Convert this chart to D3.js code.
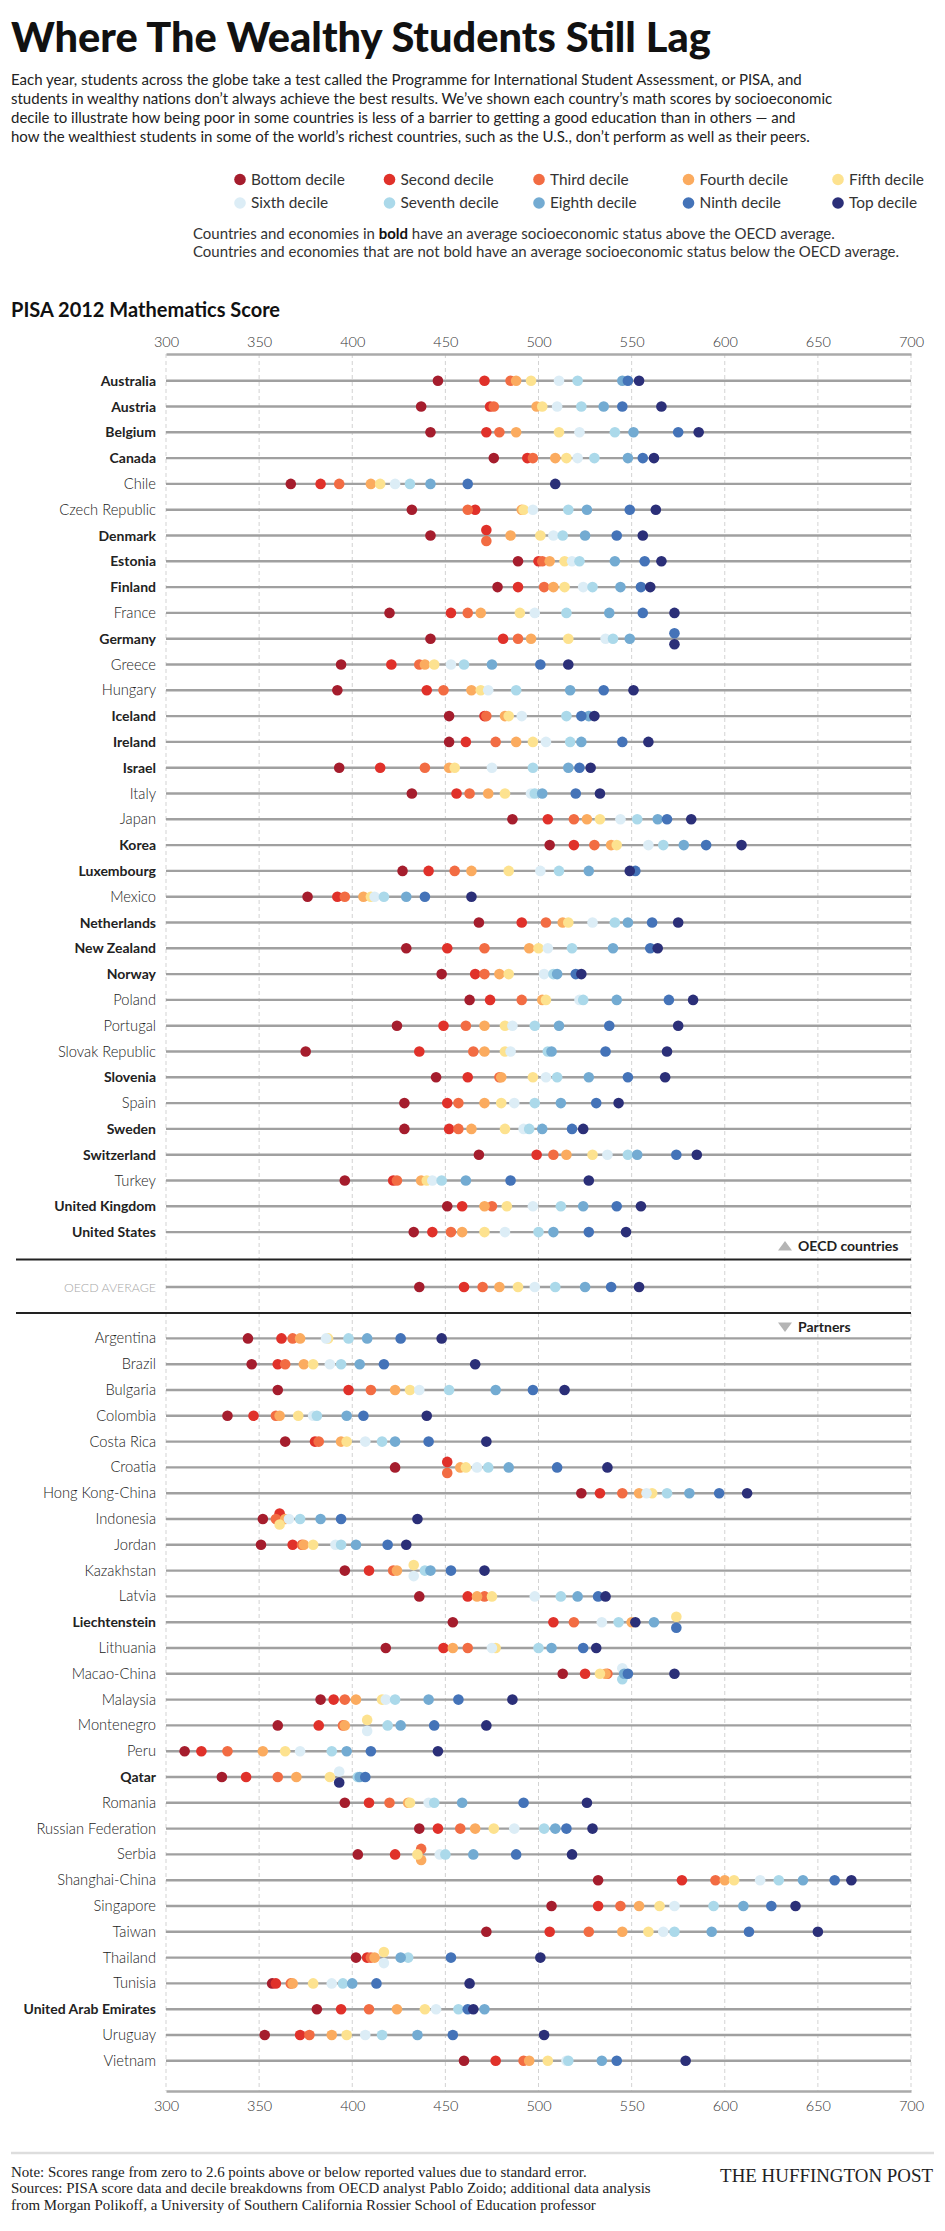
<!DOCTYPE html>
<html>
<head>
<meta charset="utf-8">
<script src="https://cdn.jsdelivr.net/npm/d3@7"></script>
<style>
  body { margin: 0; background: #fff; }
  svg { font-family: Lato, "Noto Sans", sans-serif; }
</style>
</head>
<body>
<div id="container"></div>
<script>
/* global d3 */

var w = 945,
    h = 2231;

// --- data ---------------------------------------------------------------
var decileNames = ['Bottom decile', 'Second decile', 'Third decile', 'Fourth decile', 'Fifth decile',
    'Sixth decile', 'Seventh decile', 'Eighth decile', 'Ninth decile', 'Top decile'];

var decileColors = ['#a51d2d', '#e0312a', '#f26c43', '#fbab5f', '#fde28f',
    '#dcedf6', '#abd9ea', '#73abd2', '#4473b8', '#2b2f78'];

var scoreTicks = [300, 350, 400, 450, 500, 550, 600, 650, 700];

var oecdCountries = ['Australia', 'Austria', 'Belgium', 'Canada', 'Chile', 'Czech Republic', 'Denmark',
    'Estonia', 'Finland', 'France', 'Germany', 'Greece', 'Hungary', 'Iceland', 'Ireland', 'Israel',
    'Italy', 'Japan', 'Korea', 'Luxembourg', 'Mexico', 'Netherlands', 'New Zealand', 'Norway',
    'Poland', 'Portugal', 'Slovak Republic', 'Slovenia', 'Spain', 'Sweden', 'Switzerland', 'Turkey',
    'United Kingdom', 'United States'];

var oecdScores = [
    [446, 471, 485, 488, 496, 511, 521, 545, 548, 554],
    [437, 474, 476, 499, 502, 510, 523, 535, 545, 566],
    [442, 472, 479, 488, 511, 522, 541, 551, 575, 586],
    [476, 494, 497, 509, 515, 521, 530, 548, 556, 562],
    [367, 383, 393, 410, 415, 423, 431, 442, 462, 509],
    [432, 466, 462, 491, 492, 497, 516, 526, 549, 563],
    [442, 472, 472, 485, 501, 508, 513, 525, 542, 556],
    [489, 500, 502, 506, 514, 518, 522, 541, 557, 566],
    [478, 489, 503, 508, 514, 524, 529, 544, 555, 560],
    [420, 453, 462, 469, 490, 498, 515, 538, 556, 573],
    [442, 481, 489, 496, 516, 536, 540, 549, 573, 573],
    [394, 421, 436, 439, 444, 453, 460, 475, 501, 516],
    [392, 440, 449, 464, 469, 473, 488, 517, 535, 551],
    [452, 471, 472, 482, 484, 491, 515, 527, 523, 530],
    [452, 461, 477, 488, 497, 504, 517, 523, 545, 559],
    [393, 415, 439, 452, 455, 475, 497, 516, 522, 528],
    [432, 456, 463, 473, 482, 496, 498, 502, 520, 533],
    [486, 505, 519, 526, 533, 544, 553, 564, 569, 582],
    [506, 519, 530, 539, 542, 559, 567, 578, 590, 609],
    [427, 441, 455, 464, 484, 501, 511, 527, 552, 549],
    [376, 392, 396, 406, 410, 412, 417, 429, 439, 464],
    [468, 491, 504, 513, 516, 529, 541, 548, 561, 575],
    [429, 451, 471, 495, 500, 505, 518, 540, 560, 564],
    [448, 466, 471, 479, 484, 503, 508, 510, 520, 523],
    [463, 474, 491, 502, 504, 522, 524, 542, 570, 583],
    [424, 449, 461, 471, 482, 486, 498, 511, 538, 575],
    [375, 436, 465, 471, 482, 485, 505, 507, 536, 569],
    [445, 462, 479, 480, 497, 504, 510, 527, 548, 568],
    [428, 451, 457, 471, 480, 487, 498, 512, 531, 543],
    [428, 452, 457, 464, 482, 492, 495, 502, 518, 524],
    [468, 499, 508, 515, 529, 537, 548, 553, 574, 585],
    [396, 422, 424, 437, 440, 443, 448, 461, 485, 527],
    [451, 459, 475, 471, 483, 497, 512, 524, 542, 555],
    [433, 443, 453, 459, 471, 482, 500, 508, 527, 547]
];

var oecdAverage = [436, 460, 470, 479, 489, 498, 509, 525, 539, 554];

var partnerCountries = ['Argentina', 'Brazil', 'Bulgaria', 'Colombia', 'Costa Rica', 'Croatia',
    'Hong Kong-China', 'Indonesia', 'Jordan', 'Kazakhstan', 'Latvia', 'Liechtenstein', 'Lithuania',
    'Macao-China', 'Malaysia', 'Montenegro', 'Peru', 'Qatar', 'Romania', 'Russian Federation',
    'Serbia', 'Shanghai-China', 'Singapore', 'Taiwan', 'Thailand', 'Tunisia',
    'United Arab Emirates', 'Uruguay', 'Vietnam'];

var partnerScores = [
    [344, 362, 368, 372, 387, 386, 398, 408, 426, 448],
    [346, 360, 364, 374, 379, 388, 394, 404, 417, 466],
    [360, 398, 410, 423, 431, 436, 452, 477, 497, 514],
    [333, 347, 359, 361, 371, 379, 381, 397, 406, 440],
    [364, 380, 382, 394, 397, 407, 416, 423, 441, 472],
    [423, 451, 451, 458, 461, 467, 473, 484, 510, 537],
    [523, 533, 545, 554, 561, 558, 569, 581, 597, 612],
    [352, 361, 359, 364, 361, 366, 372, 383, 394, 435],
    [351, 368, 373, 374, 379, 391, 394, 402, 419, 429],
    [396, 409, 422, 424, 433, 433, 439, 442, 453, 471],
    [436, 462, 471, 467, 475, 498, 512, 521, 532, 536],
    [454, 508, 519, 550, 574, 534, 543, 562, 574, 552],
    [418, 449, 462, 454, 477, 475, 500, 507, 524, 531],
    [513, 525, 537, 536, 533, 545, 545, 546, 548, 573],
    [383, 390, 396, 402, 416, 418, 423, 441, 457, 486],
    [360, 382, 395, 396, 408, 408, 419, 426, 444, 472],
    [310, 319, 333, 352, 364, 372, 389, 397, 410, 446],
    [330, 343, 360, 370, 388, 393, 403, 404, 407, 393],
    [396, 409, 420, 430, 431, 441, 444, 459, 492, 526],
    [436, 446, 458, 466, 476, 487, 503, 509, 515, 529],
    [403, 423, 437, 437, 435, 447, 450, 465, 488, 518],
    [532, 577, 595, 600, 605, 619, 629, 642, 659, 668],
    [507, 532, 544, 554, 565, 573, 594, 610, 625, 638],
    [472, 506, 527, 545, 559, 567, 573, 593, 613, 650],
    [402, 408, 410, 412, 417, 417, 430, 426, 453, 501],
    [357, 359, 367, 368, 379, 389, 395, 400, 413, 463],
    [381, 394, 409, 424, 439, 445, 457, 471, 462, 465],
    [353, 372, 377, 389, 397, 407, 416, 435, 454, 503],
    [460, 477, 492, 495, 505, 515, 516, 534, 542, 579]
];

// above-OECD-average socioeconomic status
var boldCountries = ['Australia', 'Austria', 'Belgium', 'Canada', 'Denmark', 'Estonia', 'Finland',
    'Germany', 'Iceland', 'Ireland', 'Israel', 'Korea', 'Luxembourg', 'Netherlands', 'New Zealand',
    'Norway', 'Slovenia', 'Sweden', 'Switzerland', 'United Kingdom', 'United States',
    'Liechtenstein', 'Qatar', 'United Arab Emirates'];

var introLines = [
    'Each year, students across the globe take a test called the Programme for International Student Assessment, or PISA, and',
    'students in wealthy nations don\u2019t always achieve the best results. We\u2019ve shown each country\u2019s math scores by socioeconomic',
    'decile to illustrate how being poor in some countries is less of a barrier to getting a good education than in others  \u2014 and',
    'how the wealthiest students in some of the world\u2019s richest countries, such as the U.S., don\u2019t perform as well as their peers.'
];

var footLines = [
    'Note: Scores range from zero to 2.6 points above or below reported values due to standard error.',
    'Sources: PISA score data and decile breakdowns from OECD analyst Pablo Zoido; additional data analysis',
    'from Morgan Polikoff, a University of Southern California Rossier School of Education professor'
];

// --- rows ---------------------------------------------------------------
var rows = [];
oecdCountries.forEach(function(name, i) {
    rows.push({ name: name, scores: oecdScores[i], slot: i });
});
rows.push({ name: 'OECD AVERAGE', scores: oecdAverage, slot: 35.13, avg: true });
partnerCountries.forEach(function(name, i) {
    rows.push({ name: name, scores: partnerScores[i], slot: 37.12 + i });
});

var x = d3.scaleLinear().domain([300, 700]).range([166, 911]);
var y = d3.scaleLinear().domain([0, 1]).range([380.7, 406.5]);

var svg = d3.select('#container')
    .append('svg')
    .attr('width', w)
    .attr('height', h);

// shrink or grow a text's font until it spans the wanted width
var fitWidth = function(sel, width) {
    var size = parseFloat(sel.attr('font-size'));
    var len = sel.node().getComputedTextLength();
    if (len > 0) sel.attr('font-size', (size * width / len).toFixed(2));
};

// --- header -------------------------------------------------------------
var title = svg.append('text')
    .attr('x', 11)
    .attr('y', 52)
    .attr('font-size', 38)
    .attr('font-weight', 900)
    .attr('fill', '#111')
    .text('Where The Wealthy Students Still Lag');
fitWidth(title, 700);

svg.append('g').selectAll('text')
    .data(introLines)
    .enter().append('text')
    .attr('x', 11)
    .attr('y', function(d, i) { return 85 + i * 19.1; })
    .attr('font-size', 15)
    .attr('fill', '#222')
    .text(function(d) { return d; });

var legend = svg.append('g').selectAll('g')
    .data(decileNames)
    .enter().append('g')
    .attr('transform', function(d, i) {
        return 'translate(' + (240 + (i % 5) * 149.5) + ',' + (179.5 + Math.floor(i / 5) * 23.5) + ')';
    });
legend.append('circle')
    .attr('r', 5.8)
    .attr('fill', function(d, i) { return decileColors[i]; });
legend.append('text')
    .attr('x', 11)
    .attr('y', 5.2)
    .attr('font-size', 15.4)
    .attr('fill', '#333')
    .text(function(d) { return d; });

var note1 = svg.append('text')
    .attr('x', 193)
    .attr('y', 239)
    .attr('font-size', 14.6)
    .attr('fill', '#333');
note1.append('tspan').text('Countries and economies in ');
note1.append('tspan').attr('font-weight', 700).attr('fill', '#111').text('bold');
note1.append('tspan').text(' have an average socioeconomic status above the OECD average.');

var note2 = svg.append('text')
    .attr('x', 193)
    .attr('y', 256.5)
    .attr('font-size', 14.6)
    .attr('fill', '#333')
    .text('Countries and economies that are not bold have an average socioeconomic status below the OECD average.');
fitWidth(note2, 706);
note1.attr('font-size', note2.attr('font-size'));

svg.append('text')
    .attr('x', 11)
    .attr('y', 317)
    .attr('font-size', 20)
    .attr('font-weight', 700)
    .attr('fill', '#111')
    .text('PISA 2012 Mathematics Score');

// --- grid + axes ---------------------------------------------------------
var axisY0 = 354,
    axisY1 = 2091;

svg.append('g').selectAll('line')
    .data(scoreTicks)
    .enter().append('line')
    .attr('x1', function(d) { return x(d); })
    .attr('x2', function(d) { return x(d); })
    .attr('y1', axisY0)
    .attr('y2', axisY1)
    .attr('stroke', '#c8c8c8')
    .attr('stroke-width', 0.8)
    .attr('stroke-dasharray', '4,3');

var axisTop = svg.append('g')
    .attr('transform', 'translate(0,' + axisY0 + ')')
    .call(d3.axisTop(x).tickValues(scoreTicks).tickSize(0).tickPadding(7));
var axisBottom = svg.append('g')
    .attr('transform', 'translate(0,' + axisY1 + ')')
    .call(d3.axisBottom(x).tickValues(scoreTicks).tickSize(0).tickPadding(10));

[axisTop, axisBottom].forEach(function(a) {
    a.select('.domain').attr('stroke', '#aaa').attr('stroke-width', 2.5);
    a.selectAll('text')
        .style('font-family', 'Lato, sans-serif')
        .style('font-size', '14.5px')
        .style('font-weight', 300)
        .attr('fill', '#333');
});

// section separators
[1259.5, 1313].forEach(function(yy) {
    svg.append('line')
        .attr('x1', 16).attr('x2', x(700))
        .attr('y1', yy).attr('y2', yy)
        .attr('stroke', '#222')
        .attr('stroke-width', 2);
});

var tagX = x(700) - 126;
var oecdTag = svg.append('g').attr('transform', 'translate(' + tagX + ',1246)');
oecdTag.append('path')
    .attr('d', 'M-7,4.5 L7,4.5 L0,-5 Z')
    .attr('fill', '#b5b5b5');
oecdTag.append('text')
    .attr('x', 13)
    .attr('y', 5)
    .attr('font-size', 14)
    .attr('font-weight', 700)
    .attr('fill', '#222')
    .text('OECD countries');

var partnerTag = svg.append('g').attr('transform', 'translate(' + tagX + ',1327)');
partnerTag.append('path')
    .attr('d', 'M-7,-4.5 L7,-4.5 L0,5 Z')
    .attr('fill', '#b5b5b5');
partnerTag.append('text')
    .attr('x', 13)
    .attr('y', 5)
    .attr('font-size', 14)
    .attr('font-weight', 700)
    .attr('fill', '#222')
    .text('Partners');

// --- rows ---------------------------------------------------------------
var row = svg.append('g').selectAll('.row')
    .data(rows)
    .enter().append('g')
    .attr('class', 'row')
    .attr('transform', function(d) { return 'translate(0,' + y(d.slot) + ')'; });

row.append('line')
    .attr('x1', x(300))
    .attr('x2', x(700))
    .attr('stroke', '#a0a0a0')
    .attr('stroke-width', 2.4);

var labels = row.append('text')
    .attr('x', x(300) - 10)
    .attr('y', 5)
    .attr('text-anchor', 'end')
    .attr('font-size', function(d) {
        if (d.avg) return 14.5;
        return boldCountries.indexOf(d.name) >= 0 ? 14 : 14.7;
    })
    .attr('font-weight', function(d) { return boldCountries.indexOf(d.name) >= 0 ? 700 : 300; })
    .attr('fill', function(d) { return d.avg ? '#a8a8a8' : '#222'; })
    .text(function(d) { return d.name; });

labels.filter(function(d) { return d.avg; })
    .each(function() { fitWidth(d3.select(this), 92); });

// dots; two identical values are stacked one above the other
row.selectAll('circle')
    .data(function(d) {
        return d.scores.map(function(s, i) {
            var same = d.scores.map(function(v, j) { return v === s ? j : -1; })
                .filter(function(j) { return j >= 0; });
            var dy = 0;
            if (same.length > 1) dy = same[0] === i ? -5.5 : 5.5;
            return { score: s, decile: i, dy: dy };
        });
    })
    .enter().append('circle')
    .attr('cx', function(d) { return x(d.score); })
    .attr('cy', function(d) { return d.dy; })
    .attr('r', 5.3)
    .attr('fill', function(d) { return decileColors[d.decile]; });

// --- footer -------------------------------------------------------------
svg.append('line')
    .attr('x1', 11).attr('x2', 934)
    .attr('y1', 2153).attr('y2', 2153)
    .attr('stroke', '#ddd')
    .attr('stroke-width', 2.5);

var foot = svg.append('g')
    .style('font-family', '"Liberation Serif", "DejaVu Serif", serif');

var footText = foot.selectAll('text')
    .data(footLines)
    .enter().append('text')
    .attr('x', 11)
    .attr('y', function(d, i) { return 2177 + i * 16.3; })
    .attr('font-size', 12.6)
    .attr('fill', '#222')
    .text(function(d) { return d; });
var sourceLine = d3.select(footText.nodes()[1]);
fitWidth(sourceLine, 640);
footText.attr('font-size', sourceLine.attr('font-size'));

var brand = foot.append('text')
    .attr('x', 933)
    .attr('y', 2182)
    .attr('text-anchor', 'end')
    .attr('font-size', 17.5)
    .attr('fill', '#222')
    .text('THE HUFFINGTON POST');
fitWidth(brand, 213);
</script>
</body>
</html>
